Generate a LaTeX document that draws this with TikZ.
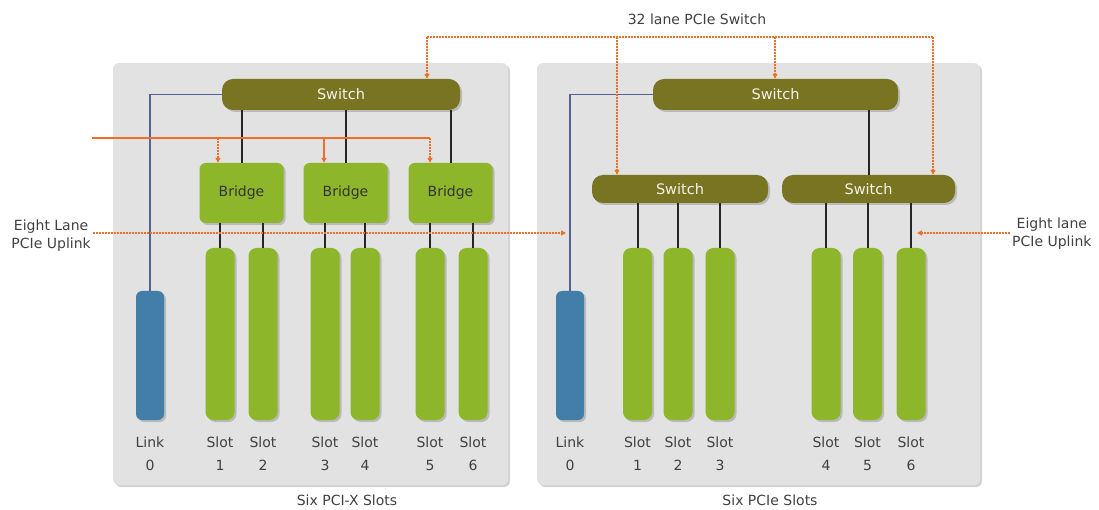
\documentclass[tikz,border=0pt]{standalone}
\usepackage{fontspec}
\setmainfont{DejaVu Sans}
\usetikzlibrary{shadows,arrows.meta}
\definecolor{panelc}{RGB}{226,226,226}
\definecolor{olivec}{RGB}{120,116,34}
\definecolor{greenc}{RGB}{142,182,42}
\definecolor{bluec}{RGB}{66,126,168}
\definecolor{bluel}{RGB}{84,96,150}
\definecolor{orangec}{RGB}{238,112,40}
\tikzset{
  panel/.style={fill=panelc,rounded corners=6pt,drop shadow={shadow xshift=2pt,shadow yshift=-2pt,opacity=0.35}},
  switchbox/.style={fill=olivec,rounded corners=11pt,inner sep=0pt,text=white!92!olivec,font=\fontsize{14.5}{16}\selectfont,drop shadow={shadow xshift=2pt,shadow yshift=-2pt,opacity=0.4}},
  bridgebox/.style={fill=greenc,rounded corners=6pt,inner sep=0pt,minimum width=84pt,minimum height=60pt,text=black!80,font=\fontsize{14}{16}\selectfont,drop shadow={shadow xshift=2pt,shadow yshift=-2pt,opacity=0.4}},
  slotbox/.style={fill=greenc,rounded corners=8pt,inner sep=0pt,minimum width=29pt,minimum height=172pt,drop shadow={shadow xshift=2pt,shadow yshift=-2pt,opacity=0.4}},
  linkbox/.style={fill=bluec,rounded corners=6pt,inner sep=0pt,minimum width=28pt,minimum height=129pt,drop shadow={shadow xshift=2pt,shadow yshift=-2pt,opacity=0.4}},
  conn/.style={draw=black!85,line width=2pt},
  bconn/.style={draw=bluel,line width=1.5pt},
  osolid/.style={draw=orangec,line width=1.5pt},
  odash/.style={draw=orangec,line width=1.3pt,dash pattern=on 2pt off 1pt},
  otip/.style={-{Triangle[length=5pt,width=5pt]}},
  lbl/.style={font=\fontsize{14}{16}\selectfont,text=black!75,inner sep=0pt},
  caplbl/.style={font=\fontsize{14}{18}\selectfont,text=black!75,inner sep=0pt,align=center},
}
\begin{document}
\begin{tikzpicture}[x=1pt,y=-1pt]
\useasboundingbox (0,0) rectangle (1099,510);
% panels
\path[panel] (113,63) rectangle (508,485);
\path[panel] (537,63) rectangle (980,485);
% left panel nodes
\node[switchbox,minimum width=238pt,minimum height=31pt] (sw1) at (341,94.5) {Switch};
\node[bridgebox] (b1) at (241.5,193) {Bridge};
\node[bridgebox] (b2) at (345.5,193) {Bridge};
\node[bridgebox] (b3) at (450.5,193) {Bridge};
\node[linkbox] (lk1) at (150,355.5) {};
\foreach \n/\x in {1/220,2/263,3/325,4/365,5/430,6/473}{
  \node[slotbox] (ls\n) at (\x,334) {};
}
% right panel nodes
\node[switchbox,minimum width=245pt,minimum height=31pt] (rsw) at (775.5,94.5) {Switch};
\node[switchbox,minimum width=176pt,minimum height=28pt] (rsw1) at (680,189) {Switch};
\node[switchbox,minimum width=173pt,minimum height=28pt] (rsw2) at (868.5,189) {Switch};
\node[linkbox] (lk2) at (570,355.5) {};
\foreach \n/\x in {1/637.5,2/678,3/720,4/826,5/867.5,6/911}{
  \node[slotbox] (rs\n) at (\x,334) {};
}
% black connectors
\foreach \b in {b1,b2,b3}{ \draw[conn] (\b.north) -- (\b.north |- sw1.south); }
\draw[conn] (ls1.north) -- (ls1.north |- b1.south);
\draw[conn] (ls2.north) -- (ls2.north |- b1.south);
\draw[conn] (ls3.north) -- (ls3.north |- b2.south);
\draw[conn] (ls4.north) -- (ls4.north |- b2.south);
\draw[conn] (ls5.north) -- (ls5.north |- b3.south);
\draw[conn] (ls6.north) -- (ls6.north |- b3.south);
\draw[conn] (rsw2.north) -- (rsw2.north |- rsw.south);
\foreach \s in {rs1,rs2,rs3}{ \draw[conn] (\s.north) -- (\s.north |- rsw1.south); }
\foreach \s in {rs4,rs5,rs6}{ \draw[conn] (\s.north) -- (\s.north |- rsw2.south); }
% blue link lines
\draw[bconn] (lk1.north) |- (sw1.west);
\draw[bconn] (lk2.north) |- (rsw.west);
% orange 32-lane switch feed
\coordinate (t1) at (427,37);
\coordinate (t2) at (617,37);
\coordinate (t3) at (775,37);
\coordinate (t4) at (933,37);
\draw[odash] (t1) -- (t4);
\draw[odash,otip] (t1) -- (t1 |- sw1.north);
\draw[odash,otip] (t2) -- (t2 |- rsw1.north);
\draw[odash,otip] (t3) -- (t3 |- rsw.north);
\draw[odash,otip] (t4) -- (t4 |- rsw2.north);
\node[lbl] (toplbl) at (697,19) {32 lane PCIe Switch};
% orange bridge feed
\coordinate (o0) at (92,138);
\coordinate (o1) at (218,138);
\coordinate (o2) at (324,138);
\coordinate (o3) at (430,138);
\draw[osolid] (o0) -- (o3);
\draw[odash,otip] (o1) -- (o1 |- b1.north);
\draw[osolid,otip] (o2) -- (o2 |- b2.north);
\draw[odash,otip] (o3) -- (o3 |- b3.north);
% eight lane uplinks
\coordinate (e0) at (93,233);
\coordinate (e1) at (566,233);
\coordinate (f0) at (1010,233);
\coordinate (f1) at (917,233);
\draw[odash,otip] (e0) -- (e1);
\draw[odash,otip] (f0) -- (f1);
\node[caplbl,anchor=east] (el) at (91,236) {Eight Lane\\PCIe Uplink};
\node[caplbl,anchor=west] (er) at (1012,234) {Eight lane\\PCIe Uplink};
% labels
\node[lbl] at (lk1.south |- 0,442) {Link};
\node[lbl] at (lk1.south |- 0,465) {0};
\node[lbl] at (lk2.south |- 0,442) {Link};
\node[lbl] at (lk2.south |- 0,465) {0};
\foreach \n in {1,...,6}{
  \node[lbl] at (ls\n.south |- 0,442) {Slot};
  \node[lbl] at (ls\n.south |- 0,465) {\n};
  \node[lbl] at (rs\n.south |- 0,442) {Slot};
  \node[lbl] at (rs\n.south |- 0,465) {\n};
}
\node[lbl] (c1) at (347,500) {Six PCI-X Slots};
\node[lbl] (c2) at (770,500) {Six PCIe Slots};
\end{tikzpicture}
\end{document}
